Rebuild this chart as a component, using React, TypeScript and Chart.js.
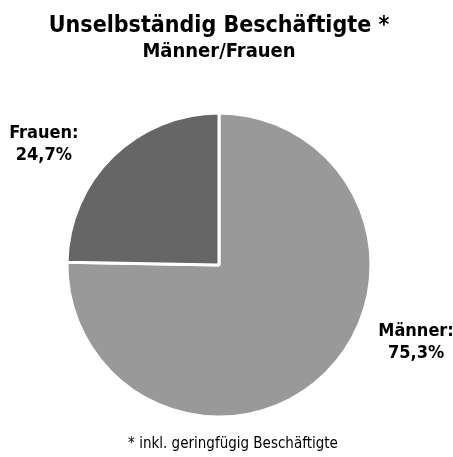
import { useEffect, useRef } from "react";
import { Chart, registerables } from "chart.js";

Chart.register(...registerables);

const categories = ["Männer", "Frauen"];
const shares = [75.3, 24.7];
const sliceColors = ["#999999", "#666666"];
const titleText = "Unselbständig Beschäftigte *";
const subtitleText = "Männer/Frauen";
const footnoteText = "* inkl. geringfügig Beschäftigte";

const FONT = '"DejaVu Sans Condensed", "DejaVu Sans", sans-serif';

// label anchor offsets relative to pie centre, in units of radius
const labelAnchors = [
  { dx: 1.305, dy: 0.47 },
  { dx: -1.16, dy: -0.84 },
];

const textPlugin = {
  id: "textPlugin",
  afterDraw(chart: any) {
    const ctx = chart.ctx as CanvasRenderingContext2D;
    const meta = chart.getDatasetMeta(0);
    const arc0 = meta.data[0] as any;
    if (!arc0) return;
    const cx = arc0.x;
    const cy = arc0.y;
    const r = 151;
    ctx.save();
    ctx.fillStyle = "#000";
    ctx.textAlign = "center";
    ctx.textBaseline = "alphabetic";
    // title
    ctx.font = `bold 23px ${FONT}`;
    ctx.fillText(titleText, cx, 32);
    ctx.font = `bold 20px ${FONT}`;
    ctx.fillText(subtitleText, cx, 57);
    // slice labels
    ctx.font = `bold 18px ${FONT}`;
    categories.forEach((c, i) => {
      const a = labelAnchors[i];
      const x = cx + a.dx * r;
      const y = cy + a.dy * r;
      const val = shares[i].toFixed(1).replace(".", ",") + "%";
      ctx.fillText(c + ":", x, y);
      ctx.fillText(val, x, y + 22);
    });
    // footnote
    ctx.font = `15px ${FONT}`;
    ctx.fillText(footnoteText, cx + 14, 448);
    ctx.restore();
  },
};

export default function App() {
  const ref = useRef<HTMLCanvasElement | null>(null);
  useEffect(() => {
    if (!ref.current) return;
    const chart = new Chart(ref.current, {
      type: "pie",
      data: {
        labels: categories,
        datasets: [
          {
            data: shares,
            backgroundColor: sliceColors,
            borderColor: "#ffffff",
            borderWidth: 3,
            radius: 152,
          },
        ],
      },
      options: {
        responsive: false,
        animation: false,
        layout: { padding: { left: 68, right: 83, top: 114, bottom: 41 } },
        plugins: {
          legend: { display: false },
          tooltip: { enabled: false },
          title: { display: false },
        },
      },
      plugins: [textPlugin],
    });
    return () => chart.destroy();
  }, []);
  return (
    <div style={{ position: "absolute", left: 0, top: 0, width: 453, height: 457, background: "#fff" }}>
      <canvas ref={ref} width={453} height={457} />
    </div>
  );
}
